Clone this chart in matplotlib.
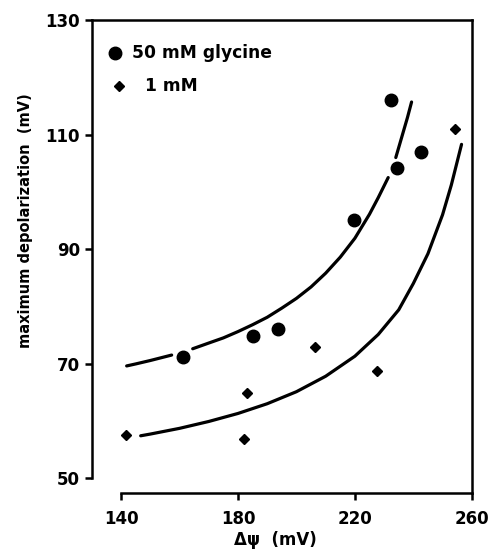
import matplotlib
matplotlib.use('Agg')
import matplotlib.pyplot as plt

# measured points
gly_x = [161.3, 185.1, 193.8, 219.8, 234.4, 232.4, 242.6]
gly_y = [71.2, 74.9, 76.0, 95.1, 104.1, 116.1, 107.0]
low_x = [141.6, 182.1, 183.1, 206.4, 227.6, 254.4]
low_y = [57.6, 56.9, 64.9, 72.9, 68.8, 110.9]

# fitted curves as drawn (upper one broken in three pieces)
fit_gly = [
    ([141.9, 145, 150, 155, 157.3], [69.6, 69.95, 70.55, 71.2, 71.5]),
    ([164.5, 170, 175, 180, 185, 190, 195, 200, 205, 210, 215, 220, 225, 228, 231.4],
     [72.6, 73.6, 74.5, 75.6, 76.8, 78.1, 79.7, 81.4, 83.4, 85.8, 88.6, 91.9, 96.1, 99.0, 102.5]),
    ([234.0, 236, 238, 239.4], [106.0, 109.5, 113.0, 115.7]),
]
fit_low_x = [146.7, 150, 160, 170, 180, 190, 200, 210, 220, 228, 235, 240, 245, 250, 253, 256.5]
fit_low_y = [57.4, 57.7, 58.7, 59.9, 61.3, 63.0, 65.1, 67.8, 71.3, 75.1, 79.4, 84.0, 89.2, 96.0, 101.2, 108.3]

xticks = [140, 180, 220, 260]
yticks = [50, 70, 90, 110, 130]

plt.rcParams['font.family'] = ['DejaVu Sans']
plt.rcParams['font.weight'] = 'bold'

fig = plt.figure(figsize=(4.94, 5.59), dpi=100)
ax = fig.add_axes([0.186, 0.118, 0.769, 0.846])

for fx, fy in fit_gly:
    ax.plot(fx, fy, color='black', lw=2.3, solid_capstyle='round')
ax.plot(fit_low_x, fit_low_y, color='black', lw=2.3, solid_capstyle='round')

ax.plot(gly_x, gly_y, 'o', color='black', ms=9)
ax.plot(low_x, low_y, 'D', color='black', ms=5.5)

# legend drawn by hand
ax.plot([0.0605], [0.930], 'o', color='black', ms=9, transform=ax.transAxes, clip_on=False)
ax.text(0.105, 0.930, '50 mM glycine', transform=ax.transAxes, fontsize=12.3,
        fontweight='bold', va='center', ha='left')
ax.plot([0.071], [0.860], 'D', color='black', ms=5.5, transform=ax.transAxes, clip_on=False)
ax.text(0.14, 0.860, '1 mM', transform=ax.transAxes, fontsize=12.3,
        fontweight='bold', va='center', ha='left')

ax.set_xlim(130, 260)
ax.set_ylim(47.4, 130)
ax.set_xticks(xticks)
ax.set_yticks(yticks)
ax.spines['left'].set_bounds(50, 130)
ax.spines['bottom'].set_bounds(140, 260)
for s in ax.spines.values():
    s.set_linewidth(1.8)
ax.tick_params(direction='out', length=5, width=1.8, labelsize=12)
ax.tick_params(axis='x', pad=7)

ax.set_ylabel('maximum depolarization  (mV)', fontsize=10.5, fontweight='bold')
ax.yaxis.set_label_coords(-0.155, 0.577)
ax.set_xlabel('Δψ  (mV)', fontsize=12, fontweight='bold')
ax.xaxis.set_label_coords(0.483, -0.08)

plt.savefig('out.png', dpi=100)
